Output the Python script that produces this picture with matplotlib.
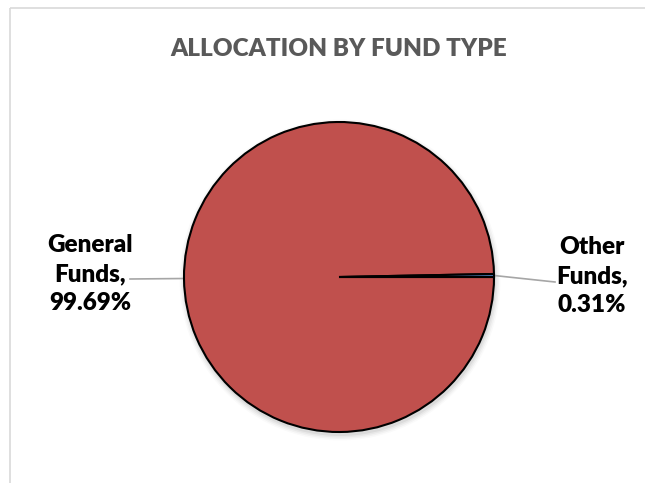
import matplotlib
matplotlib.use("Agg")
import matplotlib.pyplot as plt
from matplotlib.patches import Rectangle
import numpy as np

title = "ALLOCATION BY FUND TYPE"
categories = ["General Funds", "Other Funds"]
values = [99.69, 0.31]
colors = ["#C0504D", "#4F81BD"]

plt.rcParams['font.family'] = ['Lato', 'DejaVu Sans']

fig = plt.figure(figsize=(6.45, 4.83), dpi=100)
ax = fig.add_axes([0, 0, 1, 1])
ax.set_xlim(0, 645)
ax.set_ylim(483, 0)
ax.set_aspect('equal')
ax.axis('off')

# chart frame
ax.add_patch(Rectangle((10, 8), 700, 600, fill=False, edgecolor="#D9D9D9", lw=1.2))

cx, cy, r = 339, 277, 155
# soft shadow
for i, a in enumerate([0.05, 0.04, 0.03, 0.02]):
    sh = plt.Circle((cx + 1, cy + 3), r + 1 + i * 1.5, color="black", alpha=a, lw=0, zorder=1)
    ax.add_patch(sh)

start = 360 * values[1] / 100.0
wedges, _ = ax.pie(values, colors=colors, center=(cx, cy), radius=r,
                   startangle=start, counterclock=True,
                   wedgeprops=dict(edgecolor="black", linewidth=1.5))
for w in wedges:
    w.set_zorder(3)
    t1, t2 = w.theta1, w.theta2
    w.set_theta1(-t2)
    w.set_theta2(-t1)

ax.set_xlim(0, 645)
ax.set_ylim(483, 0)

ax.text(cx, 49, title, ha='center', va='center', fontsize=17.5,
        fontweight='heavy', color="#595959")

labels = [f"General\nFunds,\n{values[0]:.2f}%", f"Other\nFunds,\n{values[1]:.2f}%"]
label_pos = [(90, 274), (592, 276)]
line_end = [(130, 279), (555, 282)]
for i, w in enumerate(wedges):
    mid = np.deg2rad((w.theta1 + w.theta2) / 2.0)
    px = cx + r * np.cos(mid)
    py = cy + r * np.sin(mid)
    ax.plot([px, line_end[i][0]], [py, line_end[i][1]], color="#A6A6A6", lw=1.2, zorder=2)
    ax.text(label_pos[i][0], label_pos[i][1], labels[i], ha='center', va='center',
            fontsize=17.5, fontweight='heavy', color="black", linespacing=1.4)

fig.savefig("out.png", dpi=100)
